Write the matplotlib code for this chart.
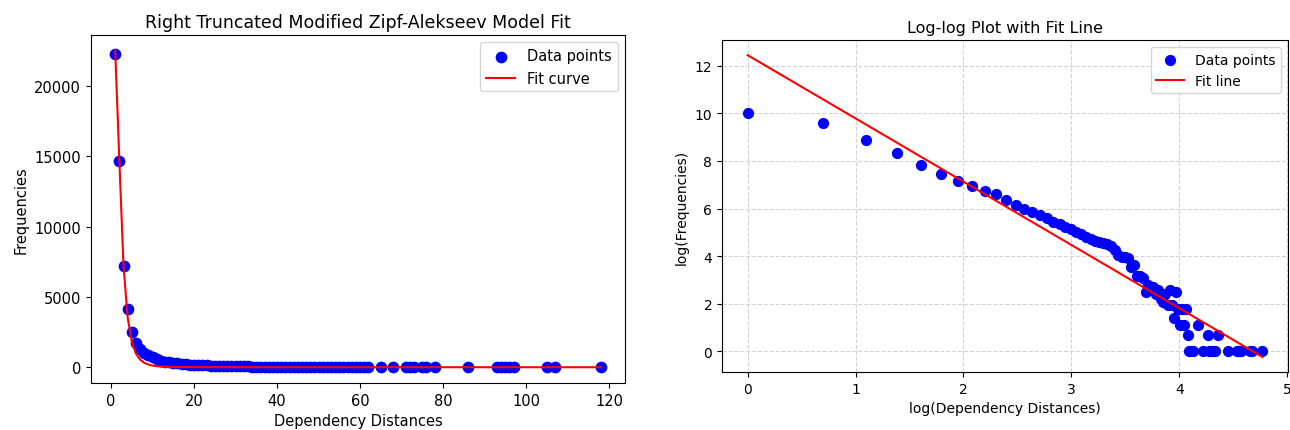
import numpy as np
import matplotlib
matplotlib.use('Agg')
import matplotlib.pyplot as pyplot

# Dependency distances and their frequencies
distances = list(range(1, 63)) + [65, 68, 71, 72, 73, 75, 76, 78, 86,
                                  93, 94, 95, 96, 97, 105, 107, 118]
frequencies = [22300, 14700, 7200, 4150, 2510, 1750, 1290, 1020, 855, 750,
               590, 470, 400, 350, 305, 270, 225, 210, 185, 168,
               150, 137, 123, 112, 101, 97, 94, 92, 83, 70,
               57, 52, 53, 50, 34, 38, 24, 24, 22, 12,
               16, 15, 15, 11, 13, 9, 8, 11, 7, 13,
               7, 4, 12, 6, 3, 6, 3, 6, 2, 1,
               1, 1,
               3, 1, 2, 1, 1, 1, 1, 2, 1,
               1, 1, 1, 1, 1, 1, 1, 1]

# Zipf-Alekseev fit parameters: f(x) = a * x ** -(b + c * ln x)
za_a = 22500.0
za_b = -0.106
za_c = 1.04

# Log-log linear fit parameters
fit_slope = -2.66
fit_intercept = 12.45

x = np.array(distances, dtype=float)
y = np.array(frequencies, dtype=float)
fit_curve = za_a * x ** -(za_b + za_c * np.log(x))

log_x = np.log(x)
log_y = np.log(y)
fit_line = fit_intercept + fit_slope * log_x

pyplot.rcParams['font.family'] = 'DejaVu Sans'
fig = pyplot.figure(figsize=(12.9, 4.31), dpi=100)

# Left panel
ax1 = fig.add_axes([0.0705, 0.109, 0.414, 0.807])
ax1.scatter(x, y, color='blue', s=55, label='Data points', zorder=2)
ax1.plot(x, fit_curve, color='red', linewidth=1.5, label='Fit curve', zorder=3)
ax1.set_xlabel('Dependency Distances', fontsize=10.5)
ax1.set_ylabel('Frequencies', fontsize=10.5)
ax1.set_title('Right Truncated Modified Zipf-Alekseev Model Fit', fontsize=12.5)
ax1.tick_params(labelsize=10.5)
ax1.legend(loc='upper right', fontsize=10.5)

# Right panel
ax2 = fig.add_axes([0.5597, 0.1346, 0.4388, 0.770])
ax2.scatter(log_x, log_y, color='blue', s=50, label='Data points', zorder=2)
ax2.plot(log_x, fit_line, color='red', linewidth=1.5, label='Fit line', zorder=3)
ax2.set_xlabel('log(Dependency Distances)', fontsize=10)
ax2.set_ylabel('log(Frequencies)', fontsize=10)
ax2.set_title('Log-log Plot with Fit Line', fontsize=11.5)
ax2.tick_params(labelsize=10)
ax2.set_xticks([0, 1, 2, 3, 4, 5])
ax2.grid(True, linestyle='--', color='lightgray', linewidth=0.8)
ax2.set_axisbelow(True)
ax2.legend(loc='upper right', fontsize=10)

fig.savefig('out.png', dpi=100)
